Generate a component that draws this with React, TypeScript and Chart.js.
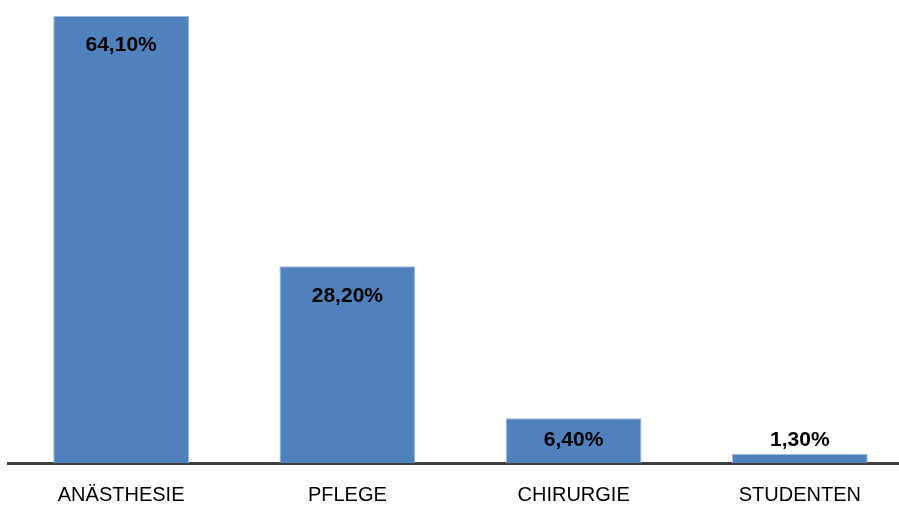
import React, { useEffect, useRef } from "react";
import { Chart, registerables } from "chart.js";

Chart.register(...registerables);

const categories = ["ANÄSTHESIE", "PFLEGE", "CHIRURGIE", "STUDENTEN"];
const values = [64.1, 28.2, 6.4, 1.3];
const valueLabels = ["64,10%", "28,20%", "6,40%", "1,30%"];

const FONT = "'Liberation Sans', Arial, sans-serif";

const valueLabelPlugin = {
  id: "valueLabels",
  afterDatasetsDraw(chart: any) {
    const ctx = chart.ctx;
    const meta = chart.getDatasetMeta(0);
    ctx.save();
    ctx.font = `bold 21px ${FONT}`;
    ctx.fillStyle = "#000000";
    ctx.textAlign = "center";
    ctx.textBaseline = "middle";
    meta.data.forEach((bar: any, i: number) => {
      const y = Math.min(bar.y + 29.5, bar.base - 23);
      ctx.fillText(valueLabels[i], bar.x, y);
    });
    ctx.restore();
  },
};

export default function App() {
  const canvasRef = useRef<HTMLCanvasElement | null>(null);

  useEffect(() => {
    if (!canvasRef.current) return;
    const chart = new Chart(canvasRef.current, {
      type: "bar",
      data: {
        labels: categories,
        datasets: [
          {
            data: values,
            backgroundColor: "#4F81BD",
            borderColor: "#9DB7DE",
            borderWidth: 1,
            barPercentage: 0.6,
            categoryPercentage: 1,
          },
        ],
      },
      options: {
        animation: false,
        responsive: true,
        maintainAspectRatio: false,
        layout: { padding: { left: 8, right: 0, top: 16, bottom: 0 } },
        plugins: {
          legend: { display: false },
          tooltip: { enabled: false },
        },
        scales: {
          x: {
            z: 1,
            grid: { display: false, drawTicks: false },
            border: { display: true, color: "#404040", width: 3 },
            ticks: {
              color: "#000000",
              font: { family: FONT, size: 20 },
              padding: 20,
              maxRotation: 0,
            },
            afterFit(scale: any) {
              scale.height = 42;
            },
          },
          y: {
            display: false,
            min: 0,
            max: 64.1,
          },
        },
      },
      plugins: [valueLabelPlugin],
    });
    return () => chart.destroy();
  }, []);

  return (
    <div
      style={{
        position: "fixed",
        left: 0,
        top: 0,
        width: 899,
        height: 505,
        overflow: "hidden",
        background: "#ffffff",
      }}
    >
      <div style={{ position: "relative", width: 913, height: 505 }}>
        <canvas ref={canvasRef} />
      </div>
    </div>
  );
}
